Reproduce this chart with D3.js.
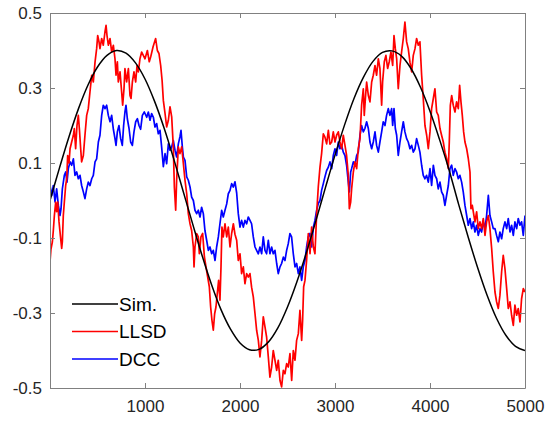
<!DOCTYPE html>
<html>
<head>
<meta charset="utf-8">
<script src="https://cdn.jsdelivr.net/npm/d3@7"></script>
<style>
  body { margin: 0; background: #fff; }
  text { font-family: "Liberation Sans", Arial, sans-serif; }
</style>
</head>
<body>
<div class="chart"></div>
<script>
var svgWidth = 554;
var svgHeight = 423;

var margin = { top: 13, right: 29, bottom: 35, left: 50 };

var width = svgWidth - margin.left - margin.right;
var height = svgHeight - margin.top - margin.bottom;

// tick values
var xTicks = [1000, 2000, 3000, 4000, 5000];
var yTicks = [-0.5, -0.3, -0.1, 0.1, 0.3, 0.5];

// series names and colours
var seriesNames = ["Sim.", "LLSD", "DCC"];
var seriesColors = ["#000000", "#ff0000", "#0000ff"];

// Sim. (read every 100 samples)
var simX = [0, 100, 200, 300, 400, 500, 600, 700, 800, 900, 1000, 1100, 1200, 1300, 1400, 1500, 1600, 1700, 1800, 1900,
  2000, 2100, 2200, 2300, 2400, 2500, 2600, 2700, 2800, 2900, 3000, 3100, 3200, 3300, 3400, 3500, 3600, 3700, 3800, 3900,
  4000, 4100, 4200, 4300, 4400, 4500, 4600, 4700, 4800, 4900, 5000];
var simY = [0, 0.087, 0.170, 0.245, 0.308, 0.356, 0.387, 0.400, 0.393, 0.367, 0.324, 0.265, 0.194, 0.113, 0.026, -0.061,
  -0.146, -0.224, -0.291, -0.343, -0.380, -0.398, -0.397, -0.377, -0.339, -0.284, -0.216, -0.138, -0.053, 0.035, 0.121,
  0.201, 0.272, 0.329, 0.371, 0.395, 0.399, 0.385, 0.352, 0.302, 0.238, 0.163, 0.082, -0.009, -0.096, -0.178, -0.252,
  -0.314, -0.360, -0.389, -0.400];

// LLSD
var llsdX = [0, 10, 25, 35, 46, 60, 70, 81, 95, 109, 123, 130, 140, 151, 165, 176, 186, 200, 211, 228, 246, 256, 270, 284,
  298, 309, 323, 333, 351, 368, 386, 403, 421, 439, 456, 474, 491, 502, 516, 526, 544, 561, 579, 590, 600, 614, 632, 649,
  667, 684, 695, 709, 719, 737, 754, 765, 779, 789, 807, 825, 842, 853, 867, 884, 902, 916, 930, 947, 965, 982, 1000, 1025,
  1045, 1060, 1085, 1112, 1130, 1147, 1165, 1180, 1193, 1211, 1228, 1246, 1263, 1281, 1298, 1309, 1323, 1333, 1351, 1368,
  1386, 1404, 1421, 1439, 1456, 1474, 1491, 1509, 1516, 1526, 1544, 1561, 1572, 1589, 1607, 1625, 1642, 1660, 1677, 1691,
  1705, 1719, 1733, 1747, 1761, 1775, 1789, 1800, 1810, 1824, 1842, 1860, 1877, 1895, 1912, 1930, 1947, 1965, 1982, 2000,
  2017, 2035, 2052, 2070, 2087, 2105, 2122, 2140, 2158, 2175, 2193, 2210, 2228, 2245, 2263, 2280, 2298, 2315, 2333, 2350,
  2368, 2386, 2403, 2421, 2438, 2456, 2473, 2491, 2508, 2526, 2544, 2561, 2579, 2596, 2614, 2631, 2649, 2659, 2670, 2684,
  2701, 2719, 2737, 2754, 2772, 2789, 2807, 2824, 2842, 2859, 2877, 2894, 2912, 2930, 2947, 2965, 2982, 3000, 3017, 3035,
  3052, 3070, 3087, 3105, 3122, 3140, 3151, 3165, 3175, 3193, 3210, 3228, 3245, 3263, 3280, 3298, 3308, 3322, 3333, 3351,
  3368, 3386, 3403, 3421, 3438, 3456, 3473, 3491, 3501, 3519, 3536, 3554, 3571, 3589, 3607, 3621, 3635, 3649, 3666, 3684,
  3701, 3719, 3736, 3754, 3771, 3789, 3807, 3824, 3842, 3859, 3877, 3894, 3912, 3929, 3947, 3965, 3982, 4000, 4017, 4035,
  4052, 4070, 4087, 4105, 4122, 4140, 4157, 4175, 4193, 4203, 4214, 4228, 4245, 4263, 4280, 4298, 4312, 4326, 4340, 4354,
  4368, 4386, 4403, 4421, 4431, 4445, 4456, 4473, 4491, 4508, 4526, 4543, 4561, 4579, 4596, 4614, 4631, 4649, 4666, 4684,
  4701, 4719, 4736, 4754, 4771, 4789, 4807, 4824, 4842, 4859, 4877, 4894, 4912, 4929, 4947, 4964, 4982, 5000];
var llsdY = [-0.164, -0.13, -0.11, -0.08, -0.04, -0.004, -0.03, -0.004, -0.057, -0.093, -0.128, -0.11, -0.04, -0.004, 0.04,
  0.058, 0.12, 0.10, 0.138, 0.156, 0.174, 0.192, 0.138, 0.2, 0.227, 0.192, 0.138, 0.103, 0.12, 0.174, 0.227, 0.245, 0.29,
  0.334, 0.316, 0.369, 0.405, 0.44, 0.423, 0.405, 0.432, 0.414, 0.45, 0.467, 0.44, 0.414, 0.432, 0.396, 0.414, 0.378,
  0.334, 0.37, 0.316, 0.343, 0.29, 0.254, 0.298, 0.352, 0.316, 0.352, 0.28, 0.272, 0.316, 0.343, 0.316, 0.36, 0.343,
  0.378, 0.396, 0.387, 0.378, 0.40, 0.37, 0.383, 0.41, 0.432, 0.40, 0.392, 0.36, 0.32, 0.267, 0.232, 0.196, 0.214, 0.25,
  0.223, 0.143, 0.036, -0.026, 0.054, 0.143, 0.125, 0.143, 0.098, 0.054, 0.018, -0.035, -0.062, -0.08, -0.124, -0.177,
  -0.124, -0.088, -0.097, -0.142, -0.097, -0.088, -0.15, -0.177, -0.204, -0.23, -0.284, -0.32, -0.346, -0.302, -0.284,
  -0.248, -0.213, -0.266, -0.177, -0.071, -0.097, -0.062, -0.097, -0.071, -0.124, -0.088, -0.062, -0.09, -0.106, -0.16,
  -0.142, -0.195, -0.177, -0.222, -0.195, -0.204, -0.195, -0.231, -0.257, -0.302, -0.346, -0.373, -0.417, -0.373, -0.31,
  -0.337, -0.364, -0.417, -0.471, -0.444, -0.40, -0.426, -0.453, -0.426, -0.48, -0.497, -0.453, -0.462, -0.435, -0.444,
  -0.408, -0.48, -0.40, -0.426, -0.373, -0.355, -0.293, -0.373, -0.32, -0.23, -0.213, -0.16, -0.088, -0.142, -0.071,
  -0.124, -0.142, -0.035, 0.036, 0.089, 0.125, 0.178, 0.169, 0.151, 0.187, 0.15, 0.156, 0.183, 0.156, 0.174, 0.183,
  0.156, 0.138, 0.174, 0.147, 0.12, 0.067, -0.022, -0.004, 0.031, 0.076, 0.103, 0.085, 0.138, 0.165, 0.254, 0.298,
  0.227, 0.28, 0.316, 0.28, 0.263, 0.316, 0.334, 0.36, 0.334, 0.378, 0.352, 0.254, 0.316, 0.37, 0.387, 0.352, 0.37,
  0.396, 0.36, 0.44, 0.405, 0.378, 0.298, 0.36, 0.396, 0.432, 0.476, 0.423, 0.405, 0.369, 0.343, 0.387, 0.405, 0.432,
  0.414, 0.423, 0.334, 0.272, 0.2, 0.174, 0.138, 0.183, 0.245, 0.272, 0.298, 0.236, 0.227, 0.192, 0.174, 0.156, 0.129,
  0.112, 0.085, 0.156, 0.254, 0.28, 0.254, 0.236, 0.263, 0.245, 0.307, 0.263, 0.227, 0.183, 0.156, 0.138, 0.112, 0.076,
  -0.022, -0.013, -0.03, -0.057, -0.03, -0.075, -0.057, -0.075, -0.048, -0.093, -0.057, -0.04, -0.075, -0.128, -0.19,
  -0.244, -0.27, -0.288, -0.253, -0.19, -0.146, -0.182, -0.235, -0.288, -0.27, -0.306, -0.333, -0.279, -0.306, -0.288,
  -0.324, -0.262, -0.235, -0.244];

// DCC
var dccX = [0, 18, 35, 53, 70, 88, 105, 116, 130, 151, 165, 179, 193, 211, 228, 246, 263, 281, 298, 316, 333, 351, 368, 386,
  403, 421, 439, 456, 474, 491, 509, 526, 544, 561, 579, 596, 614, 632, 649, 667, 684, 695, 709, 726, 744, 761, 775, 789,
  800, 814, 832, 849, 867, 884, 902, 920, 937, 954, 972, 993, 1018, 1035, 1053, 1070, 1088, 1105, 1123, 1140, 1158, 1175,
  1193, 1211, 1228, 1246, 1263, 1281, 1298, 1316, 1333, 1351, 1368, 1379, 1393, 1404, 1421, 1439, 1456, 1474, 1491, 1509,
  1526, 1544, 1561, 1579, 1596, 1614, 1631, 1649, 1667, 1684, 1702, 1719, 1737, 1754, 1772, 1789, 1807, 1824, 1842, 1860,
  1877, 1895, 1912, 1930, 1947, 1965, 1982, 2000, 2017, 2035, 2052, 2070, 2087, 2105, 2122, 2140, 2158, 2175, 2193, 2210,
  2228, 2245, 2263, 2280, 2298, 2315, 2333, 2350, 2368, 2386, 2403, 2421, 2438, 2456, 2473, 2491, 2508, 2526, 2543, 2561,
  2579, 2596, 2614, 2631, 2649, 2666, 2684, 2701, 2719, 2737, 2754, 2772, 2789, 2807, 2824, 2842, 2859, 2877, 2894, 2912,
  2930, 2947, 2965, 2982, 3000, 3017, 3035, 3052, 3070, 3087, 3105, 3122, 3140, 3151, 3165, 3175, 3193, 3210, 3228, 3245,
  3263, 3280, 3298, 3315, 3333, 3351, 3368, 3386, 3403, 3421, 3438, 3456, 3473, 3491, 3508, 3526, 3543, 3561, 3578, 3596,
  3607, 3621, 3635, 3649, 3666, 3684, 3701, 3719, 3736, 3754, 3771, 3789, 3807, 3824, 3842, 3859, 3877, 3894, 3912, 3929,
  3947, 3964, 3982, 4000, 4017, 4035, 4052, 4070, 4087, 4105, 4122, 4140, 4157, 4175, 4193, 4210, 4228, 4245, 4263, 4280,
  4298, 4315, 4333, 4350, 4368, 4386, 4403, 4421, 4438, 4456, 4473, 4491, 4508, 4526, 4543, 4561, 4579, 4596, 4614, 4631,
  4649, 4666, 4684, 4701, 4719, 4736, 4754, 4771, 4789, 4807, 4824, 4842, 4859, 4877, 4894, 4912, 4929, 4947, 4964, 4982,
  5000];
var dccY = [0.04, 0.013, 0.04, -0.004, 0.031, -0.013, -0.04, -0.022, 0.031, 0.067, 0.076, 0.049, 0.085, 0.103, 0.094,
  0.111, 0.067, 0.076, 0.058, 0.067, 0.04, 0.023, 0.005, 0.031, 0.049, 0.04, 0.058, 0.067, 0.103, 0.111, 0.156, 0.174,
  0.227, 0.254, 0.245, 0.254, 0.227, 0.21, 0.227, 0.19, 0.165, 0.147, 0.183, 0.2, 0.165, 0.147, 0.2, 0.236, 0.254, 0.218,
  0.192, 0.156, 0.147, 0.183, 0.21, 0.218, 0.2, 0.19, 0.227, 0.236, 0.222, 0.236, 0.214, 0.232, 0.222, 0.196, 0.205,
  0.178, 0.187, 0.143, 0.09, 0.125, 0.098, 0.151, 0.134, 0.143, 0.16, 0.134, 0.116, 0.151, 0.17, 0.187, 0.143, 0.116,
  0.107, 0.063, 0.054, 0.036, 0.009, 0.0, -0.026, -0.035, -0.026, -0.044, -0.018, -0.035, -0.08, -0.106, -0.133, -0.124,
  -0.142, -0.133, -0.16, -0.124, -0.097, -0.062, -0.026, -0.044, -0.026, -0.009, 0.018, 0.027, 0.045, 0.036, 0.05, 0.02,
  -0.035, -0.071, -0.053, -0.071, -0.053, -0.062, -0.044, -0.053, -0.062, -0.097, -0.124, -0.133, -0.142, -0.124, -0.142,
  -0.097, -0.133, -0.142, -0.106, -0.142, -0.124, -0.142, -0.133, -0.168, -0.195, -0.177, -0.168, -0.151, -0.16, -0.133,
  -0.115, -0.088, -0.097, -0.142, -0.177, -0.168, -0.195, -0.177, -0.213, -0.177, -0.16, -0.124, -0.097, -0.088, -0.124,
  -0.071, -0.053, -0.026, -0.008, 0.0, 0.027, 0.045, 0.063, 0.08, 0.089, 0.103, 0.085, 0.12, 0.138, 0.12, 0.156, 0.138,
  0.147, 0.129, 0.12, 0.094, 0.049, 0.023, 0.076, 0.085, 0.103, 0.094, 0.12, 0.129, 0.174, 0.2, 0.183, 0.192, 0.21, 0.192,
  0.156, 0.138, 0.156, 0.183, 0.147, 0.129, 0.156, 0.183, 0.21, 0.2, 0.227, 0.245, 0.227, 0.245, 0.2, 0.245, 0.192,
  0.174, 0.12, 0.156, 0.183, 0.21, 0.183, 0.165, 0.156, 0.138, 0.147, 0.129, 0.138, 0.165, 0.147, 0.129, 0.094, 0.067,
  0.058, 0.067, 0.049, 0.085, 0.04, 0.094, 0.067, 0.058, 0.031, 0.049, 0.023, 0.014, -0.013, 0.014, 0.04, 0.085, 0.094,
  0.067, 0.085, 0.076, 0.058, 0.067, 0.049, 0.023, -0.013, -0.04, -0.066, -0.048, -0.075, -0.057, -0.084, -0.066,
  -0.093, -0.075, -0.084, -0.057, -0.075, -0.04, 0.014, -0.04, -0.057, -0.075, -0.075, -0.093, -0.11, -0.084, -0.102,
  -0.075, -0.057, -0.075, -0.048, -0.084, -0.066, -0.093, -0.057, -0.075, -0.048, -0.066, -0.057, -0.093, -0.04];

var svg = d3
  .select(".chart")
  .append("svg")
  .attr("width", svgWidth)
  .attr("height", svgHeight)
  .append("g")
  .attr("transform", "translate(" + margin.left + "," + margin.top + ")");

var xLinearScale = d3.scaleLinear().domain([0, 5000]).range([0, width]);
var yLinearScale = d3.scaleLinear().domain([-0.5, 0.5]).range([height, 0]);

// clip so the noisy lines stay inside the box
svg.append("clipPath").attr("id", "plotclip")
  .append("rect").attr("width", width).attr("height", height);

var lineGen = d3.line()
  .x(function(d) { return xLinearScale(d[0]); })
  .y(function(d) { return yLinearScale(d[1]); });

function pairs(xs, ys) {
  return xs.map(function(x, i) { return [x, ys[i]]; });
}

var allSeries = [pairs(simX, simY), pairs(llsdX, llsdY), pairs(dccX, dccY)];

var plot = svg.append("g").attr("clip-path", "url(#plotclip)");

// draw blue first, then red, black on top
[2, 1, 0].forEach(function(i) {
  plot.append("path")
    .datum(allSeries[i])
    .attr("fill", "none")
    .attr("stroke", seriesColors[i])
    .attr("stroke-width", i === 0 ? 1.5 : 1.7)
    .attr("stroke-linejoin", "round")
    .attr("d", i === 0 ? lineGen.curve(d3.curveCatmullRom)(allSeries[i]) : lineGen.curve(d3.curveLinear)(allSeries[i]));
});

// axes (ticks inside, box on)
var axisColor = "#808080";
var bottomAxis = d3.axisBottom(xLinearScale).tickValues(xTicks).tickSizeInner(-5).tickSizeOuter(0).tickPadding(12)
  .tickFormat(d3.format("d"));
var leftAxis = d3.axisLeft(yLinearScale).tickValues(yTicks).tickSizeInner(-5).tickSizeOuter(0).tickPadding(8)
  .tickFormat(function(d) { return d3.format(".1f")(d).replace("\u2212", "-"); });
var topAxis = d3.axisTop(xLinearScale).tickValues(xTicks).tickSizeInner(-5).tickSizeOuter(0).tickFormat("");
var rightAxis = d3.axisRight(yLinearScale).tickValues(yTicks).tickSizeInner(-5).tickSizeOuter(0).tickFormat("");

var gx = svg.append("g").attr("transform", "translate(0," + height + ")").call(bottomAxis);
var gy = svg.append("g").call(leftAxis);
var gt = svg.append("g").call(topAxis);
var gr = svg.append("g").attr("transform", "translate(" + width + ",0)").call(rightAxis);

[gx, gy, gt, gr].forEach(function(g) {
  g.selectAll("path.domain").attr("stroke", axisColor);
  g.selectAll(".tick line").attr("stroke", axisColor);
  g.selectAll(".tick text").attr("fill", "#262626").style("font-size", "17px");
});

// legend (no box)
var legend = svg.append("g").attr("transform", "translate(22,291)");
seriesNames.forEach(function(name, i) {
  var row = legend.append("g").attr("transform", "translate(0," + (i * 27.5) + ")");
  row.append("line")
    .attr("x1", 0).attr("x2", 46)
    .attr("stroke", seriesColors[i]).attr("stroke-width", 1.5);
  row.append("text")
    .attr("x", 47).attr("y", 0).attr("dy", "0.35em")
    .attr("fill", "#000")
    .style("font-size", "19px")
    .text(name);
});
</script>
</body>
</html>
